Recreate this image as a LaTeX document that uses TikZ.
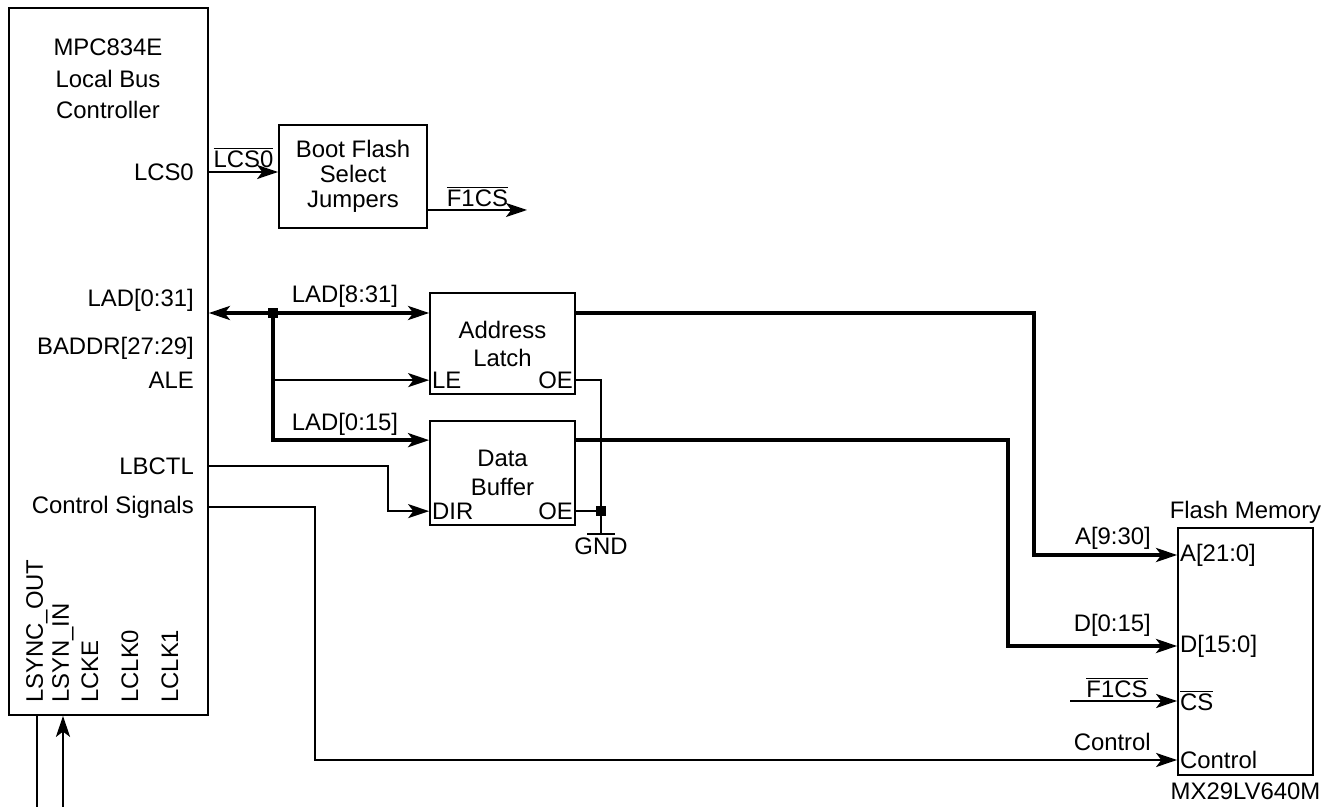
\documentclass[tikz,border=0pt]{standalone}
\usepackage{fontspec}
\setmainfont{Liberation Sans}
\usetikzlibrary{arrows.meta,calc}

\newcommand{\ovl}[1]{$\overline{\mbox{#1}}$}

\begin{document}
\begin{tikzpicture}[x=0.02cm, y=-0.02cm,
    font=\fontsize{13.6}{16}\selectfont,
    >={Stealth[length=12pt,width=8pt,inset=3pt]},
    blk/.style={draw, line width=1pt, inner sep=0pt},
    sig/.style={line width=1pt},
    bus/.style={line width=1.9pt},
    dot/.style={fill, minimum size=0.2cm, inner sep=0pt},
    pin/.style={inner xsep=1.5pt, inner ysep=3.5pt}]

    % page frame (pixel units, y downwards)
    \useasboundingbox (0,0) rectangle (1332,807);
    \coordinate (bot) at (0,807);

    % Bend points of the long wires
    \coordinate (jn) at (273,313);
    \coordinate (lbend) at (388,0);
    \coordinate (cbend) at (315,0);
    \coordinate (abend) at (1034,0);
    \coordinate (dbend) at (1008,0);

    % Local bus controller
    \node[blk, minimum width=3.98cm, minimum height=14.14cm] (lbc) at (108.5,361.5) {};
    \node[align=center, font=\fontsize{13.6}{18}\selectfont] (lbcname) at (108,79)
        {MPC834E\\Local Bus\\Controller};
    \node[anchor=east] (lcs) at (200,172) {LCS0};
    \node[anchor=east] (lad) at (200,300) {LAD[0:31]};
    \node[anchor=east] (baddr) at (200,348) {BADDR[27:29]};
    \node[anchor=east] (ale) at (200,380) {ALE};
    \node[anchor=east] (lbctl) at (200,466) {LBCTL};
    \node[anchor=east] (csig) at (200,507) {Control Signals};
    \foreach \nm/\txt/\xx in {lso/LSYNC\_OUT/37, lsi/LSYN\_IN/63, lcke/LCKE/90,
                               lck0/LCLK0/130, lck1/LCLK1/170}
        \node[rotate=90, anchor=west] (\nm) at (\xx,709) {\txt};

    % Clock wires below the controller
    \draw[sig] (lso.west |- lbc.south) -- (lso.west |- bot);
    \draw[sig,->] (lsi.west |- bot) -- (lsi.west |- lbc.south);

    % Boot flash select
    \node[blk, minimum width=2.96cm, minimum height=2.06cm, align=center,
          font=\fontsize{13.6}{14.2}\selectfont] (boot) at (353,176.5)
        {Boot Flash\\Select\\Jumpers};
    \coordinate (f1out) at (527,210);
    \draw[sig,->] (lbc.east |- lcs) -- (boot.west |- lcs)
        node[midway, above, inner sep=2pt] {\ovl{LCS0}};
    \draw[sig,->] (boot.east |- f1out) -- (f1out)
        node[midway, above, inner sep=1.5pt] {\ovl{F1CS}};

    % Address latch
    \node[blk, minimum width=2.9cm, minimum height=2.02cm, align=center,
          font=\fontsize{13.6}{15.9}\selectfont] (alat) at (502.5,343.5)
        {Address\\Latch};
    \node[pin, anchor=south west] (le) at (alat.south west) {LE};
    \node[pin, anchor=south east] (aoe) at (alat.south east) {OE};

    % Data buffer
    \node[blk, minimum width=2.9cm, minimum height=2.08cm, align=center,
          font=\fontsize{13.6}{16.4}\selectfont] (dbuf) at (502.5,473)
        {Data\\Buffer};
    \node[pin, anchor=south west] (dir) at (dbuf.south west) {DIR};
    \node[pin, anchor=south east] (doe) at (dbuf.south east) {OE};
    \coordinate (dbin) at ($(dbuf.north west)+(0,20)$);

    % Flash memory
    \node[blk, minimum width=2.7cm, minimum height=4.94cm] (flash) at (1245.5,651.5) {};
    \node[above, inner sep=2pt] (fname) at (flash.north) {Flash Memory};
    \node[below, inner sep=4pt] (fpart) at (flash.south) {MX29LV640M};
    \node[pin, anchor=west] (fa) at (flash.west |- 0,555) {A[21:0]};
    \node[pin, anchor=west] (fd) at (flash.west |- 0,646) {D[15:0]};
    \node[pin, anchor=west] (fcs) at (flash.west |- 0,701) {\ovl{CS}};
    \node[pin, anchor=west] (fctl) at (flash.west |- 0,760) {Control};

    % Local address/data bus
    \draw[bus,<->] (lbc.east |- jn) -- (alat.west |- jn);
    \node (lad831) at (345,296) {LAD[8:31]};
    \draw[bus,->] (jn) |- (dbin);
    \node (lad015) at (345,424) {LAD[0:15]};
    \draw[sig,->] (jn |- le) -- (alat.west |- le);
    \node[dot] (jnd) at (jn) {};

    % Direction and control wires
    \draw[sig,->] (lbc.east |- lbctl) -| (lbend |- dir) -- (dbuf.west |- dir);
    \draw[sig,->] (lbc.east |- csig) -| (cbend |- fctl) -- (flash.west |- fctl);
    \node[anchor=east] (ctllbl) at (1157,742) {Control};

    % Output enables tied to ground
    \coordinate (gnd) at (601,534);
    \draw[sig] (alat.east |- aoe) -| (gnd);
    \node[dot] (gj) at (gnd |- doe) {};
    \draw[sig] (dbuf.east |- doe) -- (gj);
    \draw[sig] ([xshift=-0.28cm]gnd) -- ([xshift=0.28cm]gnd);
    \node[below, inner sep=2pt] (gndlbl) at (gnd) {GND};

    % Address and data into the flash
    \draw[bus,->] (alat.east |- jn) -| (abend |- fa) -- (flash.west |- fa);
    \node[anchor=east] (a930) at (1157,538) {A[9:30]};
    \draw[bus,->] (dbuf.east |- dbin) -| (dbend |- fd) -- (flash.west |- fd);
    \node[anchor=east] (d015) at (1157,625) {D[0:15]};

    % Chip select
    \coordinate (f1in) at (1070,701);
    \draw[sig,->] (f1in) -- (flash.west |- fcs);
    \node (f1lbl) at (1117,688) {\ovl{F1CS}};

\end{tikzpicture}
\end{document}
